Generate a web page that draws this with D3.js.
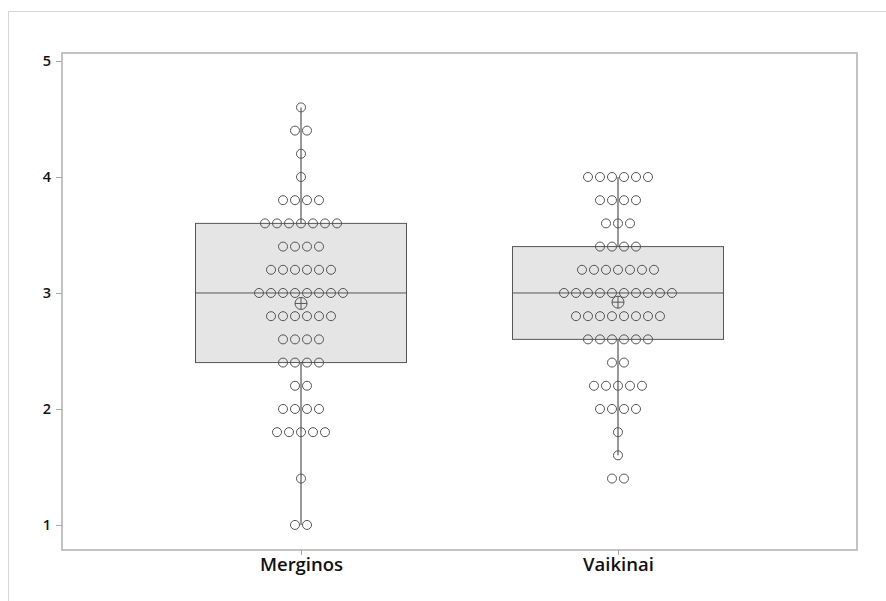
<!DOCTYPE html>
<html>
<head>
<meta charset="utf-8">
<script src="https://cdn.jsdelivr.net/npm/d3@7"></script>
<style>
  html, body { margin: 0; padding: 0; background: #fff; }
  svg { display: block; }
</style>
</head>
<body>
<svg id="chart" width="886" height="601"></svg>
<script>
// Groups and their individual scores (value, how many respondents gave it)
const groups = ["Merginos", "Vaikinai"];
const mergValues = [1.0, 1.4, 1.8, 2.0, 2.2, 2.4, 2.6, 2.8, 3.0, 3.2, 3.4, 3.6, 3.8, 4.0, 4.2, 4.4, 4.6];
const mergCounts = [2,   1,   5,   4,   2,   4,   4,   6,   8,   6,   4,   7,   4,   1,   1,   2,   1];
const vaikValues = [1.4, 1.6, 1.8, 2.0, 2.2, 2.4, 2.6, 2.8, 3.0, 3.2, 3.4, 3.6, 3.8, 4.0];
const vaikCounts = [2,   1,   1,   4,   5,   2,   6,   8,   10,  7,   4,   3,   4,   6];
const yTicks = [1, 2, 3, 4, 5];

const W = 886, H = 601;
const plot = { left: 62, right: 857, top: 53, bottom: 550 };
const dotStep = 12, dotR = 4.5;

// expand value/count pairs into the raw observations
function expand(values, counts) {
  const out = [];
  values.forEach((v, i) => { for (let k = 0; k < counts[i]; k++) out.push(v); });
  return out;
}
// quartile with position p*(n+1)
function quartile(sorted, p) {
  const n = sorted.length;
  const pos = p * (n + 1);
  const lo = Math.floor(pos), frac = pos - lo;
  if (lo < 1) return sorted[0];
  if (lo >= n) return sorted[n - 1];
  return sorted[lo - 1] + frac * (sorted[lo] - sorted[lo - 1]);
}
function stats(values, counts) {
  const s = expand(values, counts).sort(d3.ascending);
  const q1 = quartile(s, 0.25), med = quartile(s, 0.5), q3 = quartile(s, 0.75);
  const iqr = q3 - q1;
  const lo = d3.min(s.filter(v => v >= q1 - 1.5 * iqr));
  const hi = d3.max(s.filter(v => v <= q3 + 1.5 * iqr));
  return { q1, med, q3, lo, hi, mean: d3.mean(s), values, counts };
}

const data = [
  { name: groups[0], ...stats(mergValues, mergCounts) },
  { name: groups[1], ...stats(vaikValues, vaikCounts) }
];

const svg = d3.select("#chart");

// outer graph frame
svg.append("rect")
  .attr("x", 8.5).attr("y", 11.5).attr("width", W).attr("height", H)
  .attr("fill", "none").attr("stroke", "#d6d6d6").attr("stroke-width", 1);

const x = d3.scalePoint().domain(groups).range([plot.left, plot.right]).padding(0.754);
const y = d3.scaleLinear().domain([0.784, 5.069]).range([plot.bottom, plot.top]);
const boxW = 211;

// data region frame
svg.append("rect")
  .attr("x", plot.left).attr("y", plot.top)
  .attr("width", plot.right - plot.left).attr("height", plot.bottom - plot.top)
  .attr("fill", "none").attr("stroke", "#b4b4b4").attr("stroke-width", 1.6);

// axes
const yAxis = svg.append("g").attr("transform", `translate(${plot.left},0)`)
  .call(d3.axisLeft(y).tickValues(yTicks).tickSize(6).tickPadding(5).tickFormat(d3.format("d")));
yAxis.select(".domain").remove();
yAxis.selectAll(".tick line").attr("stroke", "#a8a8a8");
yAxis.selectAll(".tick text")
  .style("font-family", "'Open Sans', sans-serif").style("font-size", "14.5px")
  .style("font-weight", "600").attr("fill", "#111");

const xAxis = svg.append("g").attr("transform", `translate(0,${plot.bottom})`)
  .call(d3.axisBottom(x).tickSize(5).tickPadding(3));
xAxis.select(".domain").remove();
xAxis.selectAll(".tick line").attr("stroke", "#a8a8a8");
xAxis.selectAll(".tick text")
  .style("font-family", "'Open Sans', sans-serif").style("font-size", "18.5px")
  .style("font-weight", "600").attr("fill", "#111");

const ink = "#555";
const g = svg.append("g");

data.forEach(d => {
  const cx = x(d.name);
  // box
  g.append("rect")
    .attr("x", cx - boxW / 2).attr("y", y(d.q3))
    .attr("width", boxW).attr("height", y(d.q1) - y(d.q3))
    .attr("fill", "#e5e5e5").attr("stroke", ink).attr("stroke-width", 1);
  // median
  g.append("line")
    .attr("x1", cx - boxW / 2).attr("x2", cx + boxW / 2)
    .attr("y1", y(d.med)).attr("y2", y(d.med))
    .attr("stroke", ink).attr("stroke-width", 1);
  // whiskers
  [[d.q3, d.hi], [d.lo, d.q1]].forEach(([a, b]) => {
    g.append("line")
      .attr("x1", cx).attr("x2", cx).attr("y1", y(a)).attr("y2", y(b))
      .attr("stroke", ink).attr("stroke-width", 1.2);
  });
  // individual values, stacked side by side
  const dots = [];
  d.values.forEach((v, i) => {
    const k = d.counts[i];
    for (let j = 0; j < k; j++) dots.push({ v, off: (j - (k - 1) / 2) * dotStep });
  });
  g.selectAll(null).data(dots).enter().append("circle")
    .attr("cx", p => cx + p.off).attr("cy", p => y(p.v)).attr("r", dotR)
    .attr("fill", "none").attr("stroke", ink).attr("stroke-width", 1);
  // mean symbol
  const my = y(d.mean), mr = 6;
  g.append("circle").attr("cx", cx).attr("cy", my).attr("r", mr)
    .attr("fill", "none").attr("stroke", ink).attr("stroke-width", 1);
  g.append("line").attr("x1", cx - mr).attr("x2", cx + mr).attr("y1", my).attr("y2", my)
    .attr("stroke", ink).attr("stroke-width", 1);
  g.append("line").attr("x1", cx).attr("x2", cx).attr("y1", my - mr).attr("y2", my + mr)
    .attr("stroke", ink).attr("stroke-width", 1);
});
</script>
</body>
</html>
